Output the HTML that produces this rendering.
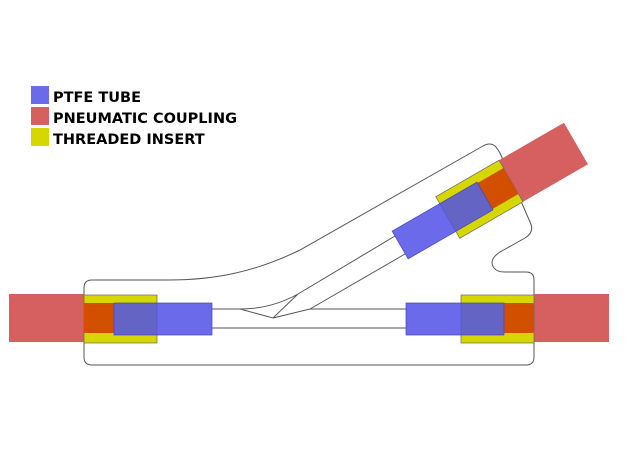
<!DOCTYPE html>
<html><head><style>
html,body{margin:0;padding:0;background:#fff;}
svg{display:block}
text{font-family:"DejaVu Sans","Liberation Sans",sans-serif;font-weight:bold;font-size:14.5px;fill:#000}
</style></head><body>
<svg width="628" height="472" viewBox="0 0 628 472" xmlns="http://www.w3.org/2000/svg">
<rect x="31" y="86" width="18" height="18" fill="#6b6bea"/>
<rect x="31" y="107" width="18" height="18" fill="#d65f5f"/>
<rect x="31" y="128" width="18" height="18" fill="#d7d700"/>
<text x="53" y="102">PTFE TUBE</text>
<text x="53" y="123">PNEUMATIC COUPLING</text>
<text x="53" y="144">THREADED INSERT</text>

<g fill="none" stroke="#555" stroke-width="1">
<path d="M92,280 L168,280 C215,280 255,272 300,250 L483,146 Q490,142 495,146 Q497,148 500,153 L530,222 Q535,232 525,238 L500,252 Q488,260 494,268 Q497,272 505,272 L526,272 Q534,272 534,280 L534,357 Q534,365 526,365 L92,365 Q84,365 84,357 L84,288 Q84,280 92,280 Z"/>
<path d="M212,309 L240,309 M212,328 L406,328 M310,309 L406,309"/>
<path d="M240,309 L273,318 L298,294 M240,309 C260,309 280,304 298,294 M273,318 L310,309"/>
<path d="M298,294 L395,236 M310,309 L405,254"/>
</g>

<rect x="9" y="294" width="75" height="48" fill="#d65f5f"/>
<rect x="84" y="295" width="73" height="48" fill="#d7d700" stroke="#666" stroke-width="0.7"/>
<rect x="84" y="303" width="30" height="30" fill="#d24f00"/>
<rect x="114" y="303" width="98" height="32" fill="#5050e8" fill-opacity="0.85" stroke="#4444bb" stroke-width="0.7"/>

<rect x="534" y="294" width="75" height="48" fill="#d65f5f"/>
<rect x="461" y="295" width="73" height="48" fill="#d7d700" stroke="#666" stroke-width="0.7"/>
<rect x="504" y="303" width="30" height="30" fill="#d24f00"/>
<rect x="406" y="303" width="98" height="32" fill="#5050e8" fill-opacity="0.85" stroke="#4444bb" stroke-width="0.7"/>

<g transform="translate(511,181) rotate(-30)">
<rect x="0" y="-24" width="75" height="48" fill="#d65f5f"/>
<rect x="-73" y="-24" width="73" height="48" fill="#d7d700" stroke="#666" stroke-width="0.7"/>
<rect x="-30" y="-15" width="30" height="30" fill="#d24f00"/>
<rect x="-128" y="-16" width="98" height="32" fill="#5050e8" fill-opacity="0.85" stroke="#4444bb" stroke-width="0.7"/>
</g>
</svg>
</body></html>
